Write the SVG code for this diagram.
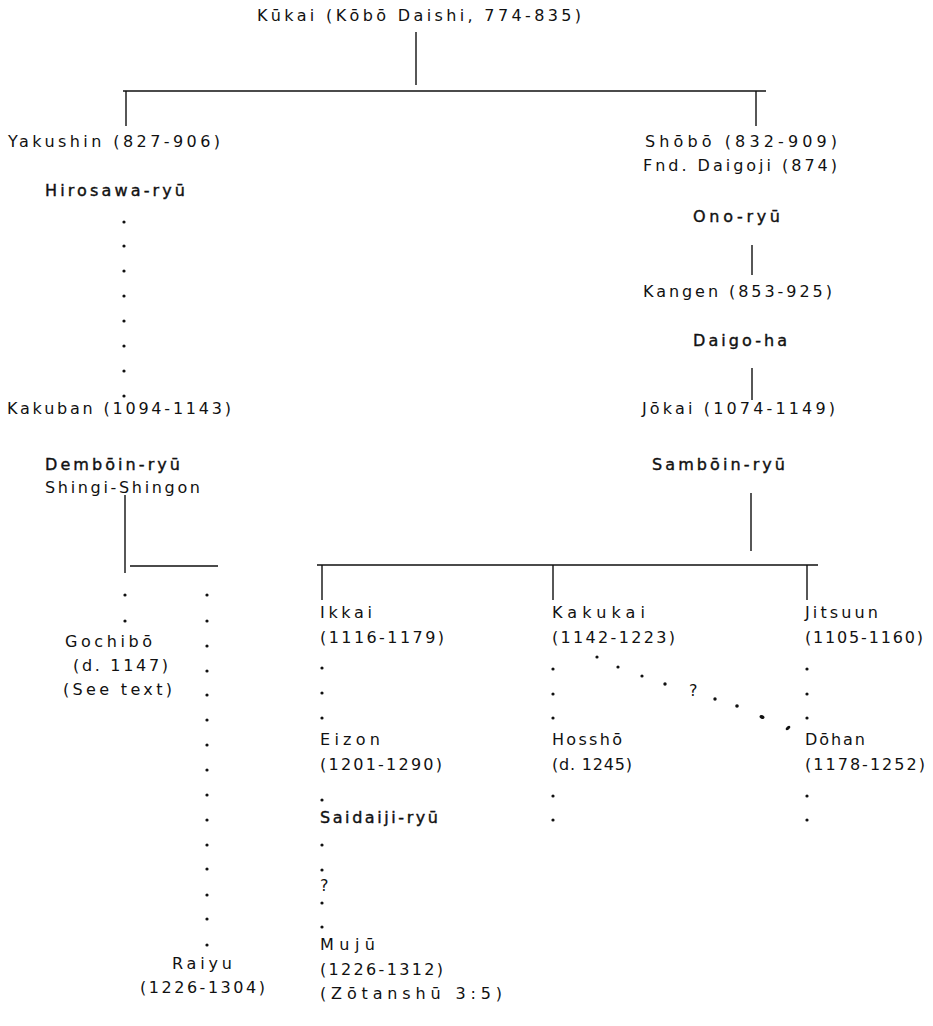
<svg xmlns="http://www.w3.org/2000/svg" width="933" height="1026" viewBox="0 0 933 1026">
<style>
text{font-family:"DejaVu Sans","Liberation Sans",sans-serif;font-size:16px;fill:#111}
.b{stroke:#111;stroke-width:0.4px}
.ln{stroke:#111;stroke-width:1.4;fill:none}
.d{fill:#111}
</style>
<rect width="933" height="1026" fill="#fff"/>
<g id="connectors">
<path class="ln" d="M416 32V85M123 91H766M126 91V126M756 91V126"/>
<path class="ln" d="M752 245V275M752 368V400"/>
<path class="ln" d="M125 495V573M130 566H218"/>
<path class="ln" d="M751 493V551M317 565H818M322 565V600M553 565V600M807 565V600"/>
<g class="d">
<circle cx="124" cy="222" r="1.6"/><circle cx="124" cy="246" r="1.6"/><circle cx="124" cy="271" r="1.6"/><circle cx="124" cy="296" r="1.6"/><circle cx="124" cy="321" r="1.6"/><circle cx="124" cy="346" r="1.6"/><circle cx="124" cy="371" r="1.6"/><circle cx="124" cy="396" r="1.6"/>
<circle cx="125" cy="595" r="1.6"/><circle cx="125" cy="621" r="1.6"/>
<circle cx="207" cy="595" r="1.6"/><circle cx="207" cy="621" r="1.6"/><circle cx="207" cy="646" r="1.6"/><circle cx="207" cy="671" r="1.6"/><circle cx="207" cy="695" r="1.6"/><circle cx="207" cy="720" r="1.6"/><circle cx="207" cy="745" r="1.6"/><circle cx="207" cy="770" r="1.6"/><circle cx="207" cy="795" r="1.6"/><circle cx="207" cy="820" r="1.6"/><circle cx="207" cy="845" r="1.6"/><circle cx="207" cy="869" r="1.6"/><circle cx="207" cy="895" r="1.6"/><circle cx="207" cy="919" r="1.6"/><circle cx="207" cy="945" r="1.6"/>
<circle cx="322" cy="668" r="1.6"/><circle cx="322" cy="693" r="1.6"/><circle cx="322" cy="718" r="1.6"/><circle cx="322" cy="800" r="1.6"/><circle cx="322" cy="845" r="1.6"/><circle cx="322" cy="870" r="1.6"/><circle cx="322" cy="903" r="1.6"/><circle cx="322" cy="927" r="1.6"/>
<circle cx="553" cy="669" r="1.6"/><circle cx="553" cy="694" r="1.6"/><circle cx="553" cy="718" r="1.6"/><circle cx="553" cy="796" r="1.6"/><circle cx="553" cy="820" r="1.6"/>
<circle cx="807" cy="669" r="1.6"/><circle cx="807" cy="694" r="1.6"/><circle cx="807" cy="718" r="1.6"/><circle cx="807" cy="796" r="1.6"/><circle cx="807" cy="820" r="1.6"/>
<circle cx="597" cy="657" r="1.6"/><circle cx="618" cy="667" r="1.6"/><circle cx="642" cy="676" r="1.6"/><circle cx="665" cy="684" r="1.7"/><circle cx="715" cy="699" r="1.7"/><circle cx="737" cy="706" r="1.8"/>
<ellipse cx="762" cy="717" rx="2.6" ry="1.8" transform="rotate(25 762 717)"/>
<ellipse cx="788" cy="728" rx="2.8" ry="1.5" transform="rotate(-40 788 728)"/>
</g>
<text x="689" y="696">?</text>
</g>
<g id="kukai"><text x="257" y="21" textLength="324" lengthAdjust="spacing">Kūkai (Kōbō Daishi, 774-835)</text></g>
<g id="yakushin">
<text x="8" y="147" textLength="212" lengthAdjust="spacing">Yakushin (827-906)</text>
<text class="b" x="45" y="196" textLength="140" lengthAdjust="spacing">Hirosawa-ryū</text>
</g>
<g id="shobo">
<text x="645" y="147" textLength="192" lengthAdjust="spacing">Shōbō (832-909)</text>
<text x="643" y="171" textLength="194" lengthAdjust="spacing">Fnd. Daigoji (874)</text>
<text class="b" x="693" y="222" textLength="87" lengthAdjust="spacing">Ono-ryū</text>
</g>
<g id="kangen">
<text x="643" y="297" textLength="189" lengthAdjust="spacing">Kangen (853-925)</text>
<text class="b" x="693" y="346" textLength="94" lengthAdjust="spacing">Daigo-ha</text>
</g>
<g id="kakuban">
<text x="7" y="414" textLength="224" lengthAdjust="spacing">Kakuban (1094-1143)</text>
<text class="b" x="45" y="470" textLength="135" lengthAdjust="spacing">Dembōin-ryū</text>
<text x="45" y="493" textLength="155" lengthAdjust="spacing">Shingi-Shingon</text>
</g>
<g id="jokai">
<text x="642" y="414" textLength="193" lengthAdjust="spacing">Jōkai (1074-1149)</text>
<text class="b" x="652" y="470" textLength="133" lengthAdjust="spacing">Sambōin-ryū</text>
</g>
<g id="gochibo">
<text x="65" y="647" textLength="87" lengthAdjust="spacing">Gochibō</text>
<text x="73" y="671" textLength="95" lengthAdjust="spacing">(d. 1147)</text>
<text x="63" y="695" textLength="109" lengthAdjust="spacing">(See text)</text>
</g>
<g id="raiyu">
<text x="172" y="969" textLength="60" lengthAdjust="spacing">Raiyu</text>
<text x="140" y="993" textLength="125" lengthAdjust="spacing">(1226-1304)</text>
</g>
<g id="ikkai">
<text x="320" y="618" textLength="52" lengthAdjust="spacing">Ikkai</text>
<text x="320" y="643" textLength="124" lengthAdjust="spacing">(1116-1179)</text>
</g>
<g id="eizon">
<text x="320" y="745" textLength="60" lengthAdjust="spacing">Eizon</text>
<text x="320" y="770" textLength="122" lengthAdjust="spacing">(1201-1290)</text>
<text class="b" x="320" y="823" textLength="118" lengthAdjust="spacing">Saidaiji-ryū</text>
<text x="320" y="891">?</text>
</g>
<g id="muju">
<text x="320" y="950" textLength="55" lengthAdjust="spacing">Mujū</text>
<text x="320" y="975" textLength="123" lengthAdjust="spacing">(1226-1312)</text>
<text x="320" y="999" textLength="182" lengthAdjust="spacing">(Zōtanshū 3:5)</text>
</g>
<g id="kakukai">
<text x="552" y="618" textLength="93" lengthAdjust="spacing">Kakukai</text>
<text x="552" y="643" textLength="123" lengthAdjust="spacing">(1142-1223)</text>
</g>
<g id="hossho">
<text x="552" y="745" textLength="70" lengthAdjust="spacing">Hosshō</text>
<text x="552" y="770" textLength="80" lengthAdjust="spacing">(d. 1245)</text>
</g>
<g id="jitsuun">
<text x="805" y="618" textLength="73" lengthAdjust="spacing">Jitsuun</text>
<text x="805" y="643" textLength="118" lengthAdjust="spacing">(1105-1160)</text>
</g>
<g id="dohan">
<text x="805" y="745" textLength="60" lengthAdjust="spacing">Dōhan</text>
<text x="805" y="770" textLength="120" lengthAdjust="spacing">(1178-1252)</text>
</g>
</svg>
